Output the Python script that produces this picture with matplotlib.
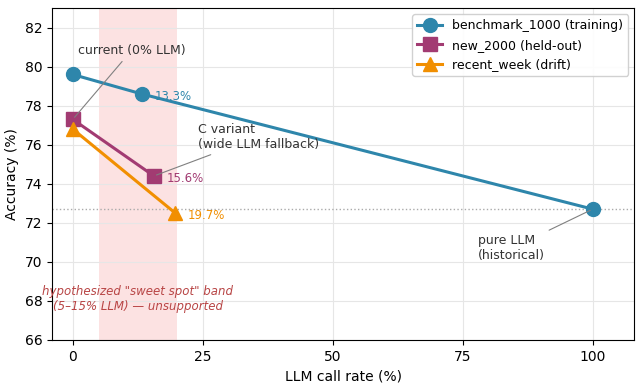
import numpy as np
import matplotlib
matplotlib.use("Agg")
import matplotlib.pyplot as plt

# данные с графика
bench_x = [0, 13.3, 100]
bench_y = [79.6, 78.6, 72.7]
new_x = [0, 15.6]
new_y = [77.3, 74.4]
recent_x = [0, 19.7]
recent_y = [76.8, 72.5]

labels = ["benchmark_1000 (training)", "new_2000 (held-out)", "recent_week (drift)"]
colors = ["#2E86AB", "#A23B72", "#F18F01"]

fig, ax = plt.subplots(figsize=(6.42, 3.88), dpi=100)
fig.subplots_adjust(left=0.081, right=0.988, top=0.979, bottom=0.124)

# полоса "sweet spot"
ax.axvspan(5, 20, color="#fbd0d0", alpha=0.6, lw=0, zorder=0)
ax.axhline(72.7, color="#aaaaaa", ls=":", lw=1, zorder=1)

ax.plot(bench_x, bench_y, "-o", color=colors[0], lw=2.2, ms=10, label=labels[0], zorder=3)
ax.plot(new_x, new_y, "-s", color=colors[1], lw=2.2, ms=10, label=labels[1], zorder=3)
ax.plot(recent_x, recent_y, "-^", color=colors[2], lw=2.2, ms=10, label=labels[2], zorder=3)

# подписи процентов
for x, y, c in [(bench_x[1], bench_y[1], colors[0]),
                (new_x[1], new_y[1], colors[1]),
                (recent_x[1], recent_y[1], colors[2])]:
    ax.annotate(f"{x:.1f}%", (x, y), xytext=(9, -2), textcoords="offset points",
                color=c, fontsize=8.5, va="center")

arrow = dict(arrowstyle="-", color="gray", lw=0.8)
ax.annotate("current (0% LLM)", xy=(0, 77.3), xytext=(1, 80.85), fontsize=9,
            color="#333333", arrowprops=arrow, va="center")
ax.annotate("C variant\n(wide LLM fallback)", xy=(15.6, 74.4), xytext=(24, 76.4),
            fontsize=9, color="#333333", arrowprops=arrow, va="center")
ax.annotate("pure LLM\n(historical)", xy=(100, 72.7), xytext=(78, 70.7),
            fontsize=9, color="#333333", arrowprops=arrow, va="center")

ax.text(12.5, 68.1, 'hypothesized "sweet spot" band\n(5–15% LLM) — unsupported',
        ha="center", va="center", fontsize=8.5, style="italic", color="#b84545")

ax.set_xlim(-4, 108)
ax.set_ylim(66, 83)
ax.set_xticks([0, 25, 50, 75, 100])
ax.set_yticks(np.arange(66, 83, 2))
ax.set_xlabel("LLM call rate (%)", fontsize=10)
ax.set_ylabel("Accuracy (%)", fontsize=10)
ax.grid(True, color="#e6e6e6", lw=0.8)
ax.set_axisbelow(True)
ax.legend(loc="upper right", fontsize=9, framealpha=0.9)

plt.savefig("out.png", dpi=100)
